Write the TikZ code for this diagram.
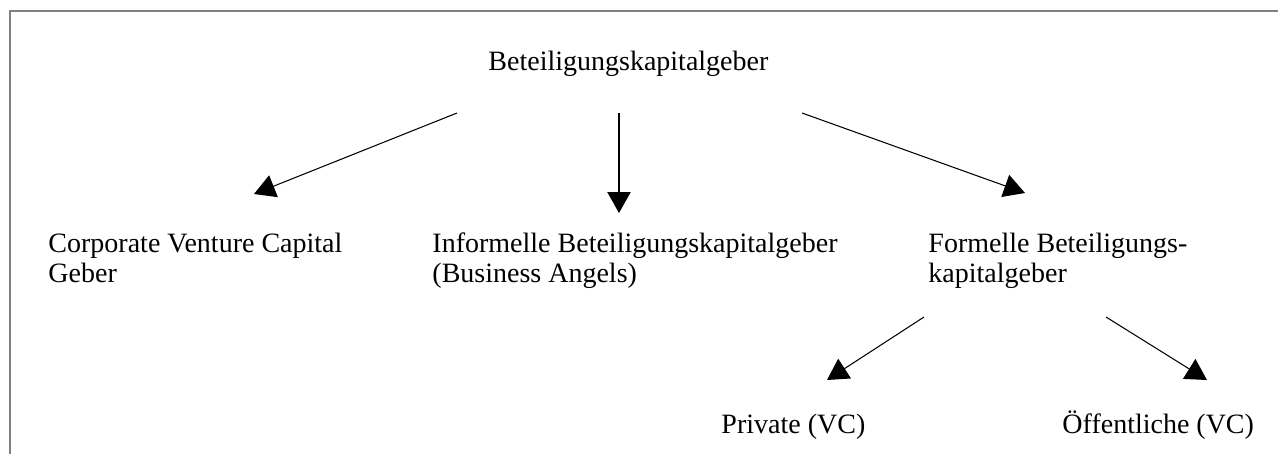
\documentclass[tikz,border=0pt]{standalone}
\usepackage{fontspec}
\setmainfont{Liberation Serif}
\usetikzlibrary{arrows.meta}

\begin{document}
\begin{tikzpicture}[x=0.4286pt, y=-0.4286pt,
  every node/.style={inner sep=0pt, font=\fontsize{12}{12.6}\selectfont},
  txt/.style={anchor=base west, align=left},
  link/.style={-{Triangle[width=10pt,length=9pt]}, line width=0.45pt}]

\useasboundingbox (0,0) rectangle (1278,454);
\draw[gray, line width=0.9pt] (10,454) -- (10,11) -- (1278,11);

\node[name=bk, txt] at (488,70) {Beteiligungskapitalgeber};

% base anchor of a two-line node sits on its last line
\node[name=cvc, txt] at (48,282) {Corporate Venture Capital\\Geber};
\node[name=iba, txt] at (432,282) {Informelle Beteiligungskapitalgeber\\(Business Angels)};
\node[name=fbk, txt] at (928,282) {Formelle Beteiligungs-\\kapitalgeber};

\node[name=pvc, txt] at (721,433) {Private (VC)};
\node[name=ovc, txt] at (1062,433) {Öffentliche (VC)};

\coordinate (bk1) at (457,113);
\coordinate (bk2) at (619,113);
\coordinate (bk3) at (802,113);
\coordinate (cvc top) at (254,194);
\coordinate (iba top) at (619,213);
\coordinate (fbk top) at (1025,193);
\coordinate (fbk1) at (924,317);
\coordinate (fbk2) at (1106,317);
\coordinate (pvc top) at (827,380);
\coordinate (ovc top) at (1207,380);

\draw[link] (bk1) -- (cvc top);
\draw[link] (bk2) -- (iba top);
\draw[link] (bk3) -- (fbk top);
\draw[link] (fbk1) -- (pvc top);
\draw[link] (fbk2) -- (ovc top);
\end{tikzpicture}
\end{document}
